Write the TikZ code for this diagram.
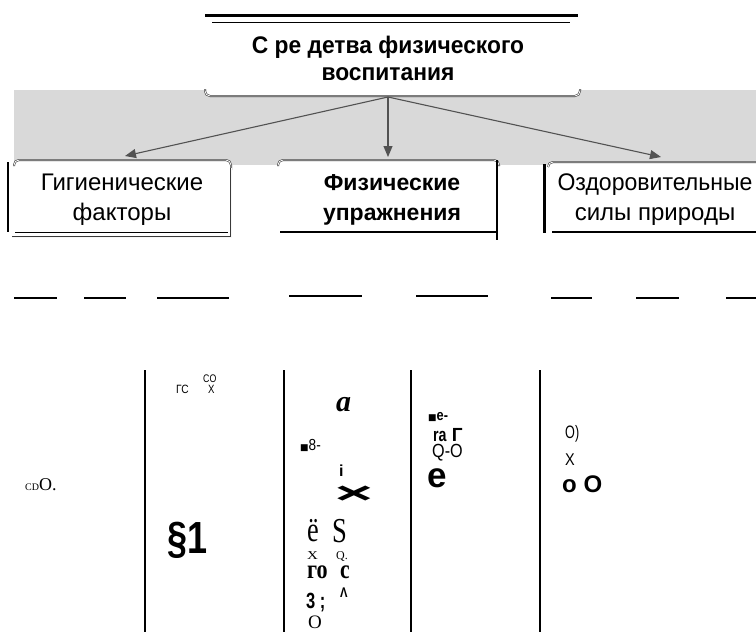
\documentclass[tikz,border=0pt]{standalone}
\usepackage{fontspec}
\setmainfont{Liberation Sans}
\newfontfamily\sansf{Liberation Sans}
\newfontfamily\seriff{Liberation Serif}
\newfontfamily\dvs{DejaVu Sans}
\usetikzlibrary{arrows.meta}
\newcommand{\fs}[1]{\fontsize{#1}{#1}\selectfont}
\newcommand{\sx}[2]{\scalebox{#1}[1]{#2}}
\newcommand{\sq}{{\dvs\fontsize{9}{9}\selectfont ■}}
\tikzset{
  band/.style={fill=gray!30, draw=none},
  emb/.style={draw=gray!45!black, line width=0.55pt, double=gray!6, double distance=0.9pt, rounded corners=5pt},
  arr/.style={draw=black!68, line width=1.1pt, -{Triangle[length=11pt,width=9pt]}},
  boxtxt/.style={align=center, inner sep=0pt, font=\sansf\fontsize{24}{30}\selectfont},
  ttl/.style={align=center, inner sep=0pt, font=\sansf\bfseries\fontsize{24}{27}\selectfont},
  g/.style={inner sep=0pt, anchor=base west},
  blank/.style={draw=black, line width=1.2pt},
  col/.style={draw=black, line width=2pt},
}
\begin{document}
\begin{tikzpicture}[x=1pt,y=-1pt]
\useasboundingbox (0,0) rectangle (756,632);
\clip (0,0) rectangle (756,632);
% title rules
\draw[line width=3pt] (205,15) -- (578,15);
\draw[line width=1pt] (212,22) -- (570,22);
\node[ttl] (title) at (388,58) {\sx{0.95}{С ре детва физического}\\\sx{0.95}{воспитания}};
% gray band
\fill[band] (14,90) rectangle (756,165);
% title box bottom
\fill[white, rounded corners=5pt] (205,89) -- (205,96) -- (580,96) -- (580,89) -- cycle;
\draw[emb] (205,89) -- (205,96) -- (580,96) -- (580,89);
% lower box tops
\fill[white, rounded corners=5pt] (14,240) -- (14,160) -- (231,160) -- (231,240) -- cycle;
\draw[emb] (14,166) -- (14,160) -- (231,160) -- (231,170);
\draw[emb, rounded corners=0pt] (231,168) -- (231,237) -- (12,237);
\fill[white, rounded corners=5pt] (278,240) -- (278,160) -- (499,160) -- (499,240) -- cycle;
\draw[emb] (278,166) -- (278,160) -- (499,160) -- (499,166);
\fill[white, rounded corners=5pt] (548,240) -- (548,162) -- (770,162) -- (770,240) -- cycle;
\draw[emb] (548,167) -- (548,162) -- (770,162);
% arrows
\coordinate (src) at (388,97);
\coordinate (tL) at (125,156);
\coordinate (tM) at (388,157);
\coordinate (tR) at (661,157);
\draw[arr] (src) -- (tL);
\draw[arr] (src) -- (tM);
\draw[arr] (src) -- (tR);
% box borders
\draw[line width=2.5pt] (8,162) -- (8,232);
\draw[line width=1pt] (15,232) -- (228,232);
\draw[line width=1.5pt] (497,160) -- (497,240);
\draw[line width=2.8pt] (280,232) -- (497,232);
\draw[line width=3pt] (544,164) -- (544,233);
\draw[line width=2.8pt] (552,232) -- (756,232);
% box texts
\node[boxtxt] (hyg) at (122,200) {Гигиенические\\факторы};
\node[boxtxt, font=\sansf\bfseries\fontsize{23}{30}\selectfont] (phys) at (392,200) {Физические\\упражнения};
\node[boxtxt] (nat) at (655,200) {\sx{0.96}{Оздоровительные}\\силы природы};
% blanks
\draw[blank, line width=2pt] (14,298) -- (57,298);
\draw[blank] (84,298) -- (126,298);
\draw[blank] (157,298) -- (229,298);
\draw[blank] (289,296) -- (362,296);
\draw[blank] (416,296) -- (488,296);
\draw[blank] (551,298) -- (592,298);
\draw[blank] (636,298) -- (679,298);
\draw[blank] (726,298) -- (756,298);
% table columns
\draw[col] (145,370) -- (145,632);
\draw[col] (284,370) -- (284,632);
\draw[col] (411,370) -- (411,632);
\draw[col] (540,370) -- (540,632);
% column texts
\node[g, font=\seriff\fs{18}] (a1) at (25,490) {{\fs{10}CD}O.};
\node[g, font=\sansf\fs{11}] (b1) at (203,382) {\sx{0.8}{CO}};
\node[g, font=\sansf\fs{12}] (b2) at (176,393) {\sx{0.85}{ГС}};
\node[g, font=\sansf\fs{12}] (b3) at (208,393) {\sx{0.8}{X}};
\node[g, font=\sansf\bfseries\fs{45}] (b4) at (167,553) {\sx{0.8}{§1}};
\node[g, font=\seriff\bfseries\itshape\fs{30}] (c1) at (336,411) {a};
\node[g, font=\sansf\fs{16}] (c2) at (300,450) {\sq\sx{0.85}{8-}};
\node[g, font=\sansf\bfseries\fs{16}] (c3) at (339,476) {i};
\node[inner sep=0pt, font=\sansf\bfseries\fs{30}] (c4) at (354,495) {\sx{2.2}{×}};
\node[g, font=\seriff\fs{35}] (c5) at (307,541) {\sx{0.75}{ё}};
\node[g, font=\seriff\fs{35}] (c6) at (332,542) {\sx{0.76}{S}};
\node[g, font=\seriff\fs{12}] (c7) at (307,559) {\sx{1.25}{X}};
\node[g, font=\seriff\fs{12}] (c8) at (336,559) {Q.};
\node[g, font=\seriff\bfseries\fs{27}] (c9) at (307,578) {\sx{0.82}{го}};
\node[g, font=\seriff\bfseries\fs{27}] (c10) at (340,578) {\sx{0.8}{c}};
\node[g, font=\sansf\bfseries\fs{22}] (c11) at (306,608) {\sx{0.75}{3 ;}};
\node[g, font=\sansf\bfseries\fs{14}] (c12) at (340,597) {\sx{0.8}{Λ}};
\node[g, font=\seriff\fs{19}] (c13) at (308,628) {O};
\node[g, font=\sansf\bfseries\fs{15}] (d1) at (428,420) {\sq\sx{0.85}{e-}};
\node[g, font=\sansf\bfseries\fs{19}] (d2) at (433,441) {\sx{0.75}{ra} Г};
\node[g, font=\sansf\fs{19}] (d3) at (432,457) {\sx{0.85}{Q-O}};
\node[g, font=\sansf\bfseries\fs{35}] (d4) at (427,487) {e};
\node[g, font=\sansf\fs{18}] (e1) at (565,438) {\sx{0.7}{O)}};
\node[g, font=\sansf\fs{17}] (e2) at (565,465) {\sx{0.85}{X}};
\node[g, font=\sansf\bfseries\fs{24}] (e3) at (562,492) {o O};
\end{tikzpicture}
\end{document}
